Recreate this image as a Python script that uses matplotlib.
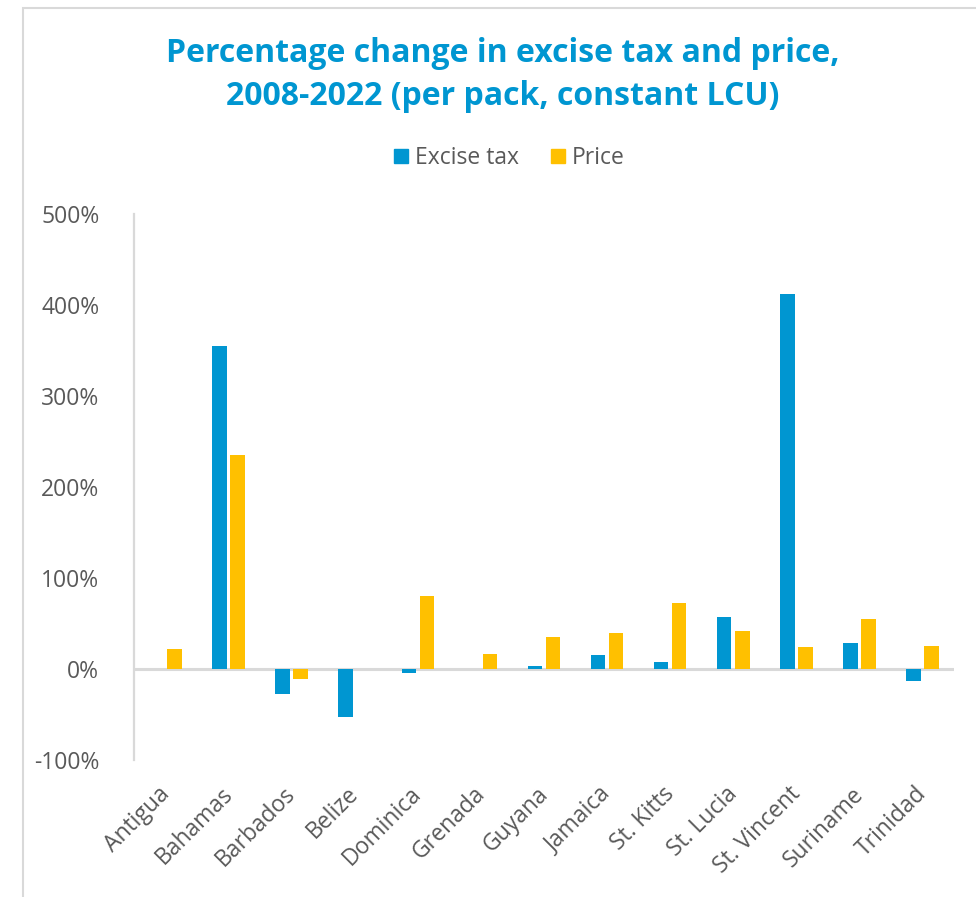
import matplotlib
matplotlib.use("Agg")
import matplotlib.pyplot as plt
from matplotlib.patches import Rectangle
from matplotlib.lines import Line2D
from matplotlib.transforms import ScaledTranslation
import numpy as np

categories = ["Antigua", "Bahamas", "Barbados", "Belize", "Dominica", "Grenada",
              "Guyana", "Jamaica", "St. Kitts", "St. Lucia", "St. Vincent",
              "Suriname", "Trinidad"]
excise_tax = [0, 355, -27, -53, -4, 0, 3, 15, 8, 57, 412, 29, -13]
price = [22, 235, -11, 0, 80, 17, 35, 40, 73, 42, 24, 55, 25]
yticks = [-100, 0, 100, 200, 300, 400, 500]
ytick_labels = ["-100%", "0%", "100%", "200%", "300%", "400%", "500%"]

BLUE = "#0096D1"
YELLOW = "#FFC000"
GRAY = "#595959"
LIGHT = "#D9D9D9"

plt.rcParams['font.family'] = ['Open Sans', 'DejaVu Sans']

W, H = 976, 897
fig = plt.figure(figsize=(W/100, H/100), dpi=100)

# outer chart frame (cut off at right and bottom)
fig.patches.append(Rectangle((23/W, -0.1), 1.2, 1 - 8/H + 0.1, transform=fig.transFigure,
                             fill=False, edgecolor=LIGHT, linewidth=1.5))

ax = fig.add_axes([134/W, 1 - 760/H, (954 - 134)/W, (760 - 214)/H])
x = np.arange(len(categories))
bw = 0.23
off = 0.143
ax.bar(x - off, excise_tax, bw, color=BLUE, linewidth=0, zorder=3)
ax.bar(x + off, price, bw, color=YELLOW, linewidth=0, zorder=3)
ax.axhline(0, color=LIGHT, linewidth=2.2, zorder=2)

ax.set_xlim(-0.5, len(categories) - 0.5)
ax.set_ylim(-100, 500)
ax.set_yticks(yticks)
ax.set_yticklabels(ytick_labels)
ax.set_xticks(x)
ax.set_xticklabels(categories, rotation=45, ha="right", rotation_mode="anchor")
ax.tick_params(axis="both", length=0, colors=GRAY, labelsize=16.5)
ax.tick_params(axis="y", pad=25)
ax.tick_params(axis="x", pad=16)
shift = ScaledTranslation(-8/100, 0, fig.dpi_scale_trans)
for lbl in ax.get_xticklabels():
    lbl.set_transform(lbl.get_transform() + shift)
for s in ["top", "right", "bottom"]:
    ax.spines[s].set_visible(False)
ax.spines["left"].set_color(LIGHT)
ax.spines["left"].set_linewidth(1.6)

fig.text(503/W, 1 - 75/H, "Percentage change in excise tax and price,\n2008-2022 (per pack, constant LCU)",
         ha="center", va="center", fontsize=23, fontweight="bold", color=BLUE, linespacing=1.38)

handles = [Line2D([], [], marker="s", linestyle="", markersize=10, color=BLUE),
           Line2D([], [], marker="s", linestyle="", markersize=10, color=YELLOW)]
leg = fig.legend(handles, ["Excise tax", "Price"], loc="center", bbox_to_anchor=(508/W, 1 - 158/H),
                 ncol=2, frameon=False, handlelength=0.8, handletextpad=0.2, columnspacing=1.3,
                 fontsize=16.5)
for t in leg.get_texts():
    t.set_color(GRAY)

fig.savefig("out.png", dpi=100)
